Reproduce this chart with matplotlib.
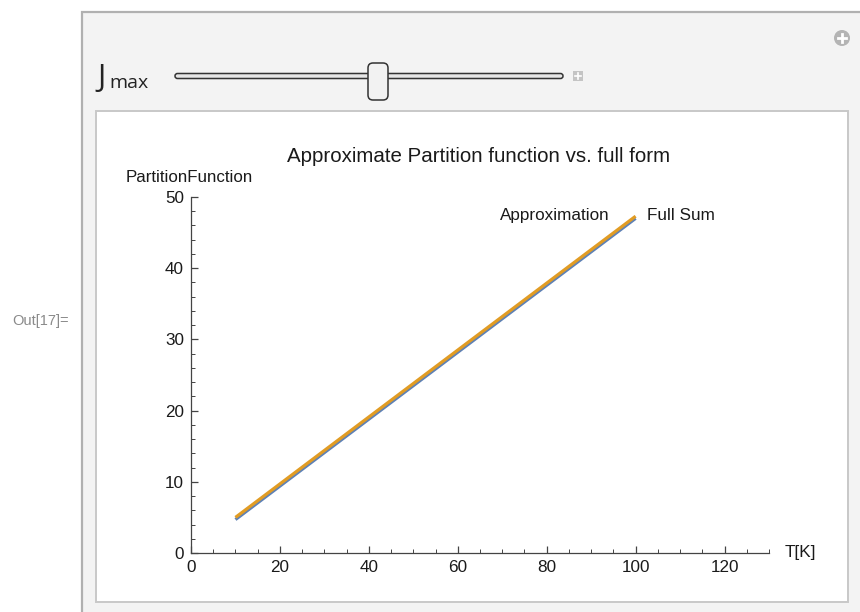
import matplotlib.pyplot as plt
from matplotlib.patches import Rectangle, FancyBboxPatch, Circle

# data
temps = [10, 20, 30, 40, 50, 60, 70, 80, 90, 100]
approx = [4.7, 9.4, 14.1, 18.8, 23.5, 28.2, 32.9, 37.6, 42.3, 47.0]
full_sum = [5.0, 9.7, 14.4, 19.1, 23.8, 28.5, 33.2, 37.9, 42.6, 47.3]
x_ticks = [0, 20, 40, 60, 80, 100, 120]
y_ticks = [0, 10, 20, 30, 40, 50]

W, H = 860, 612
blue = '#5e81b5'
orange = '#e19c24'
plt.rcParams['font.family'] = ['Liberation Sans', 'DejaVu Sans']

fig = plt.figure(figsize=(W / 100, H / 100), dpi=100)

# background layer in pixel coordinates
bg = fig.add_axes([0, 0, 1, 1])
bg.set_xlim(0, W)
bg.set_ylim(H, 0)
bg.axis('off')

bg.add_patch(Rectangle((82, 12), 800, 620, facecolor='#f3f3f3',
                       edgecolor='#b0b0b0', lw=1.6))
bg.add_patch(Rectangle((96, 111), 752, 491, facecolor='white',
                       edgecolor='#c8c8c8', lw=1.4))

bg.text(12, 321, 'Out[17]=', fontsize=10.5, color='#8a8a8a', va='center')

# slider control
bg.text(97, 86, 'J', fontsize=22, family=['Open Sans', 'DejaVu Sans'],
        color='#222222', va='baseline')
bg.text(109, 88, 'max', fontsize=14, family=['Open Sans', 'DejaVu Sans'],
        color='#222222', va='baseline')
bg.add_patch(FancyBboxPatch((175, 73.5), 388, 5, boxstyle='round,pad=0,rounding_size=2.5',
                            facecolor='#e6e6e6', edgecolor='#333333', lw=1.1))
bg.add_patch(FancyBboxPatch((368, 63), 20, 37, boxstyle='round,pad=0,rounding_size=5',
                            facecolor='#f2f2f2', edgecolor='#333333', lw=1.1))
bg.add_patch(Rectangle((573, 71), 10, 10, facecolor='#c4c4c4', edgecolor='none'))
bg.plot([575, 581], [76, 76], color='white', lw=1.2)
bg.plot([578, 578], [73, 79], color='white', lw=1.2)
bg.add_patch(Circle((842, 38), 8, facecolor='#b4b4b4', edgecolor='none'))
bg.plot([838, 846], [38, 38], color='white', lw=2)
bg.plot([842, 842], [34, 42], color='white', lw=2)

# plot titles in pixel coordinates
bg.text(479, 157, 'Approximate Partition function vs. full form', fontsize=14.8,
        color='#1a1a1a', ha='center', va='center')
bg.text(189, 177, 'PartitionFunction', fontsize=12.2, color='#1a1a1a',
        ha='center', va='center')

# plot axes: origin at pixel (191, 553)
x0, y0, x1, y1 = 191, 553, 769, 197
ax = fig.add_axes([x0 / W, (H - y0) / H, (x1 - x0) / W, (y0 - y1) / H])
ax.patch.set_alpha(0)
ax.set_xlim(0, 130)
ax.set_ylim(0, 50)

ax.plot(temps, approx, color=blue, lw=2.3, solid_capstyle='butt', clip_on=False)
ax.plot(temps, full_sum, color=orange, lw=2.3, solid_capstyle='butt', clip_on=False)

for s in ('top', 'right'):
    ax.spines[s].set_visible(False)
for s in ('left', 'bottom'):
    ax.spines[s].set_color('#444444')
    ax.spines[s].set_linewidth(0.9)

ax.set_xticks(x_ticks)
ax.set_yticks(y_ticks)
ax.set_xticks(range(0, 131, 5), minor=True)
ax.set_yticks(range(0, 51, 2), minor=True)
ax.tick_params(which='major', direction='in', length=5, width=0.9,
               color='#444444', labelsize=12.3, labelcolor='#1a1a1a', pad=5)
ax.tick_params(which='minor', direction='in', length=3, width=0.7, color='#444444')

ax.annotate('T[K]', (1.0, 0), xycoords='axes fraction', xytext=(16, 0),
            textcoords='offset pixels', ha='left', va='center',
            fontsize=12.3, color='#1a1a1a')

ax.annotate('Approximation', (temps[-1], approx[-1]), xytext=(-26, 3),
            textcoords='offset pixels', ha='right', va='center',
            fontsize=12.3, color='#1a1a1a')
ax.annotate('Full Sum', (temps[-1], full_sum[-1]), xytext=(11, 1),
            textcoords='offset pixels', ha='left', va='center',
            fontsize=12.3, color='#1a1a1a')

fig.savefig('out.png', dpi=100)
